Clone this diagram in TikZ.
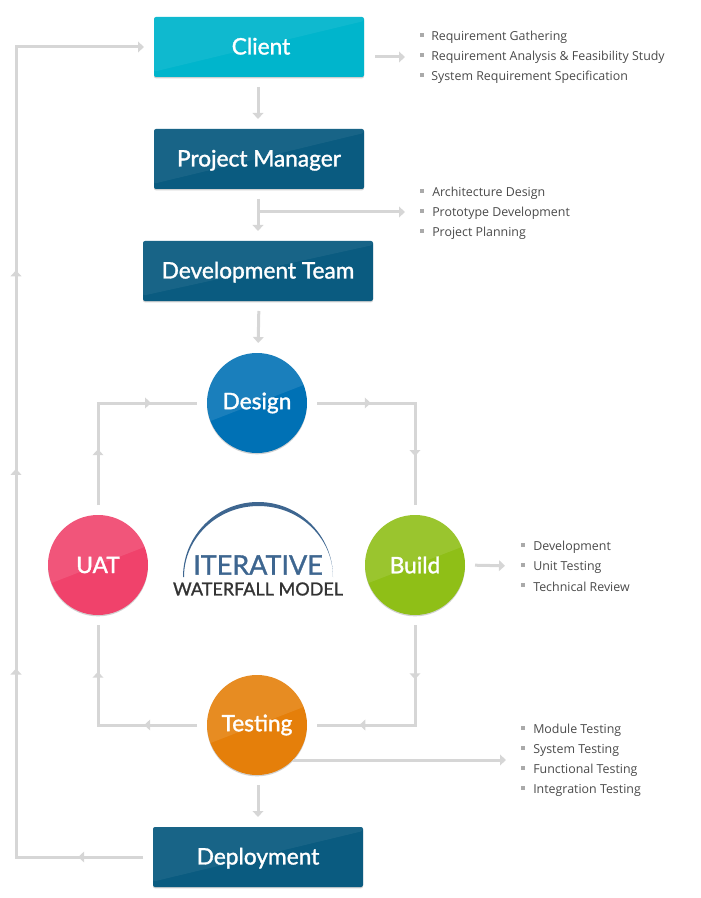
\documentclass[tikz,border=0pt]{standalone}
\usepackage{fontspec}
\setmainfont{Lato}
\newfontfamily\boxfont{Lato}[FakeBold=1.5]
\newfontfamily\logofont{Lato}[FakeBold=1.2]
\newfontfamily\listfont{Open Sans}
\usetikzlibrary{arrows.meta,decorations.markings,shadows}
\definecolor{linegray}{HTML}{D6D6D6}
\definecolor{listgray}{HTML}{AAAAAA}
\definecolor{listtext}{HTML}{4A4A4A}
\definecolor{clientcyan}{HTML}{00B5CC}
\definecolor{deepteal}{HTML}{0A5B80}
\definecolor{designblue}{HTML}{0071B5}
\definecolor{buildgreen}{HTML}{8FBF17}
\definecolor{uatred}{HTML}{F0426B}
\definecolor{testorange}{HTML}{E57F0A}
\definecolor{logoblue}{HTML}{3E6690}
\definecolor{logodark}{HTML}{333333}
\tikzset{
    flowtip/.tip={Triangle[width=8pt,length=4.5pt]},
    flow/.style={draw=linegray,line width=2.25pt,-{flowtip},shorten <=7.5pt,shorten >=7.5pt},
    loopline/.style={flow,-},
    midtip/.style={postaction={decorate,decoration={markings,mark=at position #1 with {\arrow{flowtip}}}}},
    boxlabel/.style={text=white,outer sep=0pt,font=\boxfont\fontsize{17}{20}\selectfont,
        drop shadow={shadow xshift=0pt,shadow yshift=-1pt,opacity=.18,fill=black}},
    stagebox/.style={boxlabel,rectangle,rounded corners=1.5pt,minimum height=45pt,minimum width=#1,
        text height=14.7pt,text depth=3.5pt,
        path picture={\fill[white,opacity=.06] (path picture bounding box.north west)
            -- (path picture bounding box.north east) -- ([yshift=-3pt]path picture bounding box.north east)
            -- ([yshift=4pt]path picture bounding box.south west) -- cycle;}},
    stagecircle/.style={boxlabel,circle,minimum size=75pt,inner sep=0pt,
        path picture={\fill[white,opacity=.1] (path picture bounding box.north west)
            -- (path picture bounding box.north east) -- ([yshift=-23pt]path picture bounding box.north east)
            -- ([yshift=23pt]path picture bounding box.south west) -- cycle;}},
    listitem/.style={anchor=west,inner sep=0pt,text=listtext,font=\listfont\fontsize{9.3}{11}\selectfont},
    listmark/.style={fill=listgray}
}

\begin{document}
\begin{tikzpicture}[x=0.75pt,y=-0.75pt]
    \useasboundingbox (0,0) rectangle (700,898);

    % stages
    \node[stagebox=157.5pt,fill=clientcyan] (client) at (259,47) {\hspace{3pt}Client};
    \node[stagebox=157.5pt,fill=deepteal] (manager) at (259,159) {Project Manager};
    \node[stagebox=172.5pt,fill=deepteal] (devteam) at (258,271) {Development Team};
    \node[stagebox=157.5pt,fill=deepteal] (deploy) at (258,857) {Deployment};

    \node[stagecircle,fill=designblue] (design) at (257,403) {Design};
    \node[stagecircle,fill=buildgreen] (build) at (415,565) {Build};
    \node[stagecircle,fill=uatred] (uat) at (98,565) {UAT};
    \node[stagecircle,fill=testorange] (testing) at (257,725) {Testing};

    % free ends
    \coordinate (reqfrom) at (365,57);
    \coordinate (reqto) at (415,57);
    \coordinate (archfrom) at (258,212);
    \coordinate (archto) at (415,212);
    \coordinate (buildto) at (515,566);
    \coordinate (testfrom) at (283,760);
    \coordinate (testto) at (516,760);
    \coordinate (backlow) at (16,857);
    \coordinate (backhigh) at (16,47);

    % connectors
    \draw[flow] ([xshift=-.75pt]client.south) -- ([xshift=-.75pt]manager.north);
    \draw[flow] ([xshift=-.75pt]manager.south) -- (devteam.north);
    \draw[flow] ([xshift=.75pt]devteam.south) -- ([xshift=.75pt]design.north);
    \draw[flow] (testing.south -| deploy.north) -- (deploy.north);
    \draw[flow] (reqfrom) -- (reqto);
    \draw[flow,shorten <=0pt] (archfrom) -- (archto);
    \draw[flow] (build.east) -- (buildto);
    \draw[flow] (testfrom) -- (testto);

    \draw[loopline,midtip=.29,midtip=.732] (design.east) -| (build.north);
    \draw[loopline,midtip=.295,midtip=.76] (build.south) |- (testing.east);
    \draw[loopline,midtip=.287,midtip=.741] (testing.west) -| (uat.south);
    \draw[loopline,midtip=.298,midtip=.747] (uat.north) |- (design.west);
    \draw[flow,midtip=.069,midtip=.3,midtip=.484,midtip=.667]
        (deploy.west) -- (backlow) -- (backhigh) -- (client.west);

    % logo
    \fill[logoblue] (183,577) arc[start angle=180,end angle=360,radius=75]
        arc[start angle=360,end angle=180,x radius=74.5,y radius=71] -- cycle;
    \node[text=logoblue,inner sep=0pt,font=\logofont\fontsize{20.2}{24}\selectfont] (logotop) at (258,565) {ITERATIVE};
    \node[text=logodark,inner sep=0pt,font=\logofont\fontsize{13.5}{17}\selectfont] (logobottom) at (258,589) {WATERFALL MODEL};

    % lists
    \foreach \itemname [count=\i] in {Requirement Gathering,Requirement Analysis \& Feasibility Study,System Requirement Specification}{
        \fill[listmark] (420,{13+20*\i}) rectangle +(4,4);
        \node[listitem] (req\i) at (431,{17+20*\i}) {\itemname};
    }
    \foreach \itemname [count=\i] in {Architecture Design,Prototype Development,Project Planning}{
        \fill[listmark] (420,{169+20*\i}) rectangle +(4,4);
        \node[listitem] (arch\i) at (432,{173+20*\i}) {\itemname};
    }
    \foreach \itemname [count=\i] in {Development,Unit Testing,Technical Review}{
        \fill[listmark] (521,{523+20*\i}) rectangle +(4,4);
        \node[listitem] (dev\i) at (533,{527+20*\i}) {\itemname};
    }
    \foreach \itemname [count=\i] in {Module Testing,System Testing,Functional Testing,Integration Testing}{
        \fill[listmark] (521,{706+20*\i}) rectangle +(4,4);
        \node[listitem] (test\i) at (533,{710+20*\i}) {\itemname};
    }
\end{tikzpicture}
\end{document}
